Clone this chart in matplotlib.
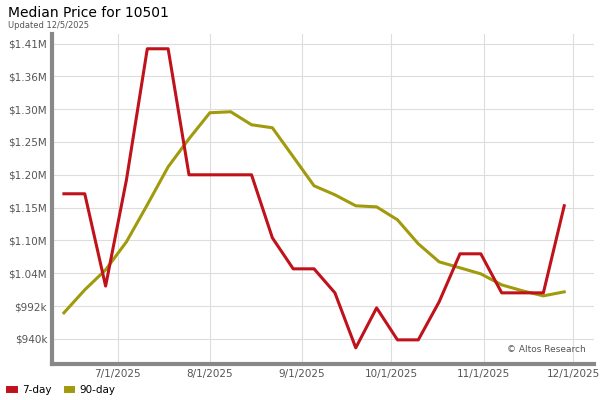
import matplotlib.pyplot as plt
import pandas as pd

dates = pd.date_range("2025-06-13", periods=25, freq="7D")
day7 = [1170.8, 1170.8, 1024, 1193, 1401.5, 1401.5, 1201, 1201, 1201, 1201,
        1100.7, 1051.4, 1051.4, 1013.2, 925.7, 989.3, 938.4, 938.4, 998.9,
        1075.3, 1075.3, 1013.2, 1013.2, 1013.2, 1151.7]
day90 = [981.4, 1018, 1049.8, 1094.4, 1153.3, 1213.7, 1258.3, 1299.7, 1301.3,
         1280.6, 1275.8, 1229.7, 1183.5, 1169.2, 1151.7, 1150, 1129.4, 1091.2,
         1062.5, 1053, 1043.4, 1025.9, 1016.4, 1008.4, 1014.8]
yticks = [940 + i * 52.2 for i in range(10)]
ylabels = ["$940k", "$992k", "$1.04M", "$1.10M", "$1.15M", "$1.20M",
           "$1.25M", "$1.30M", "$1.36M", "$1.41M"]
xticks = pd.to_datetime(["2025-07-01", "2025-08-01", "2025-09-01",
                         "2025-10-01", "2025-11-01", "2025-12-01"])
xlabels = ["7/1/2025", "8/1/2025", "9/1/2025", "10/1/2025", "11/1/2025", "12/1/2025"]

red = "#c0121b"
olive = "#a09a0c"

fig = plt.figure(figsize=(6, 4), dpi=100)
ax = fig.add_axes([52 / 600, 36 / 400, 542 / 600, 330 / 400])
ax.plot(dates, day90, color=olive, lw=2.2)
ax.plot(dates, day7, color=red, lw=2.2)

ax.set_xlim(pd.Timestamp("2025-06-09"), pd.Timestamp("2025-12-08"))
ax.set_ylim(900, 1425)
ax.set_yticks(yticks)
ax.set_yticklabels(ylabels)
ax.set_xticks(xticks)
ax.set_xticklabels(xlabels)
ax.tick_params(labelsize=7.5, colors="#555555", length=0)
ax.grid(color="#dddddd", lw=0.8)
for s in ["top", "right"]:
    ax.spines[s].set_visible(False)
ax.spines["left"].set_color("#888888")
ax.spines["left"].set_linewidth(3)
ax.spines["bottom"].set_color("#888888")
ax.spines["bottom"].set_linewidth(3)
ax.text(0.985, 0.03, "© Altos Research", transform=ax.transAxes,
        ha="right", va="bottom", fontsize=6.5, color="#555555")

fig.text(8 / 600, 1 - 13 / 400, "Median Price for 10501", fontsize=10, va="center")
fig.text(8 / 600, 1 - 25 / 400, "Updated 12/5/2025", fontsize=6, color="#555555", va="center")

fig.legend(handles=ax.lines[::-1], labels=["7-day", "90-day"], loc="lower left",
           bbox_to_anchor=(0, -0.01), ncol=2, frameon=False, fontsize=7.5,
           handlelength=0.4, handleheight=0.4, columnspacing=1.5, handletextpad=0.8)
for h in fig.legends[0].legend_handles:
    h.set_linewidth(5)

fig.savefig("out.png")
